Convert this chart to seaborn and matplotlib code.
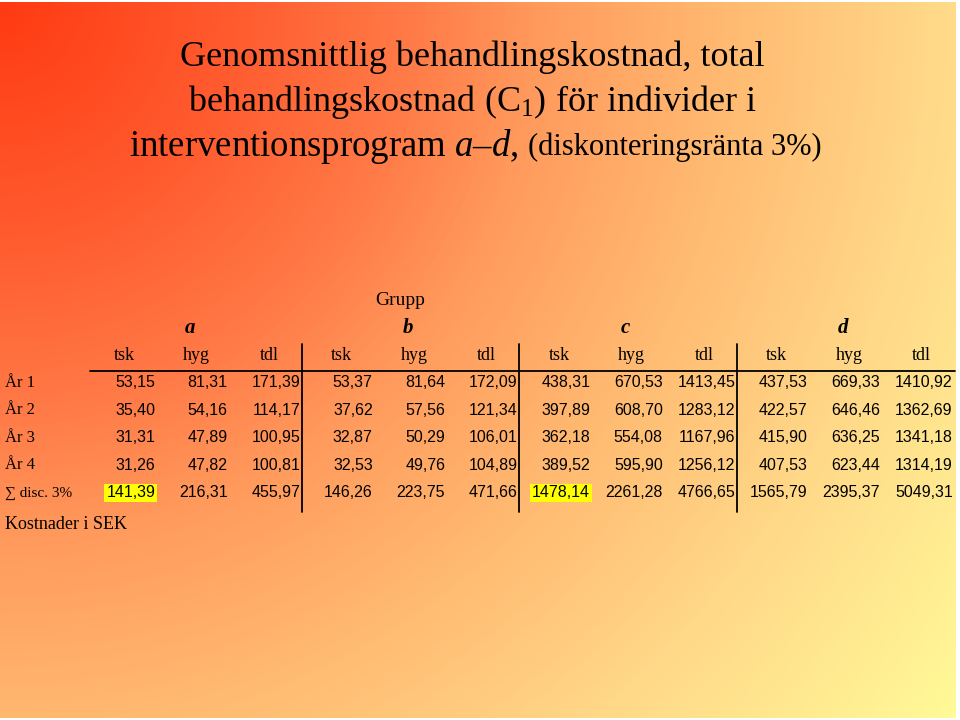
import numpy as np
import matplotlib
matplotlib.use('Agg')
import matplotlib.pyplot as plt
from matplotlib.colors import LinearSegmentedColormap, ListedColormap
import seaborn as sns

sns.set_theme(style='white')
plt.rcParams['font.family'] = ['Liberation Serif', 'DejaVu Serif']
plt.rcParams['text.color'] = 'black'
plt.rcParams['mathtext.fontset'] = 'custom'
plt.rcParams['mathtext.rm'] = 'Liberation Serif'
plt.rcParams['mathtext.it'] = 'Liberation Serif:italic'

# table data
groups = ['a', 'b', 'c', 'd']
measures = ['tsk', 'hyg', 'tdl']
row_labels = ['År 1', 'År 2', 'År 3', 'År 4', '\u2211 disc. 3%']
grp_a = [[53.15, 81.31, 171.39], [35.40, 54.16, 114.17], [31.31, 47.89, 100.95],
         [31.26, 47.82, 100.81], [141.39, 216.31, 455.97]]
grp_b = [[53.37, 81.64, 172.09], [37.62, 57.56, 121.34], [32.87, 50.29, 106.01],
         [32.53, 49.76, 104.89], [146.26, 223.75, 471.66]]
grp_c = [[438.31, 670.53, 1413.45], [397.89, 608.70, 1283.12], [362.18, 554.08, 1167.96],
         [389.52, 595.90, 1256.12], [1478.14, 2261.28, 4766.65]]
grp_d = [[437.53, 669.33, 1410.92], [422.57, 646.46, 1362.69], [415.90, 636.25, 1341.18],
         [407.53, 623.44, 1314.19], [1565.79, 2395.37, 5049.31]]
highlight = [(4, 0), (4, 6)]  # (row, col) marked yellow

title1 = 'Genomsnittlig behandlingskostnad, total'
title2 = 'behandlingskostnad (C$_1$) för individer i'
title3a = 'interventionsprogram $a$–$d$,'
title3b = '(diskonteringsränta 3%)'
footnote = 'Kostnader i SEK'

vals = np.hstack([grp_a, grp_b, grp_c, grp_d])
labels = np.array([[f'{v:.2f}'.replace('.', ',') for v in r] for r in vals])

fig = plt.figure(figsize=(9.6, 7.2), dpi=100, facecolor='white')

# diagonal red -> yellow background
bg = fig.add_axes([0, 0.003, 0.995, 0.994], zorder=-1)
yy, xx = np.mgrid[0:720, 0:960]
dist = np.sqrt(xx ** 2 + yy ** 2) / 1200
bg_cmap = LinearSegmentedColormap.from_list('bg', [
    (0, '#FF3A12'), (0.2, '#FF5C30'), (0.35, '#FF7C48'), (0.45, '#FF9A5C'),
    (0.6, '#FFB870'), (0.78, '#FFD888'), (1, '#FFFA98')])
bg.imshow(dist, cmap=bg_cmap, aspect='auto', vmin=0, vmax=1)
bg.set_axis_off()

# title
fig.text(0.492, 1 - 57 / 720, title1, ha='center', va='center', fontsize=26)
fig.text(0.492, 1 - 102 / 720, title2, ha='center', va='center', fontsize=26)
t3a = fig.text(0, 1 - 147 / 720, title3a, ha='left', va='center', fontsize=26.5)
t3b = fig.text(0, 1 - 147 / 720, title3b, ha='left', va='center', fontsize=22)
r = fig.canvas.get_renderer()
gap = 10
wa = t3a.get_window_extent(r).width
wb = t3b.get_window_extent(r).width
x0 = 0.495 * 960 - (wa + gap + wb) / 2
t3a.set_x(x0 / 960)
t3b.set_x((x0 + wa + gap) / 960)

# table
ax = fig.add_axes([0, 180 / 720, 1, 260 / 720])
sns.heatmap(vals, annot=labels, fmt='', cbar=False, ax=ax,
            cmap=ListedColormap([(1, 1, 1, 0)]), linewidths=0,
            xticklabels=False, yticklabels=False,
            annot_kws={'ha': 'right', 'fontsize': 11.5, 'color': 'black',
                       'family': 'Liberation Sans'})
ax.set_facecolor('none')
ax.set_xlim(-1.641, 11.6)
ax.set_ylim(6.209, -3.245)
ax.set_axis_off()

for t in ax.texts:
    x, y = t.get_position()
    if (int(y), int(x)) in highlight:
        t.set_bbox(dict(boxstyle='square,pad=0.12', fc='#FFFF00', ec='none'))

for j in range(len(groups) * len(measures)):
    ax.text(j + 0.07, -0.5, measures[j % 3], ha='center', va='center', fontsize=13)
for g, name in enumerate(groups):
    ax.text(3 * g + 0.98, -1.5, name, ha='center', va='center', fontsize=15,
            fontweight='bold', fontstyle='italic')
ax.text(3.876, -2.5, 'Grupp', ha='center', va='center', fontsize=14)
for i, lab in enumerate(row_labels):
    ax.text(-1.572, i + 0.5, lab, ha='left', va='center',
            fontsize=11 if i == 4 else 12)
ax.text(-1.572, 5.63, footnote, ha='left', va='center', fontsize=13)

ax.plot([-0.4, 11.53], [0.064, 0.064], color='black', lw=1.3)
for g in range(1, 4):
    ax.plot([3 * g - 0.48, 3 * g - 0.48], [-0.92, 5.19], color='black', lw=1.3)

fig.savefig('out.png', dpi=100)
